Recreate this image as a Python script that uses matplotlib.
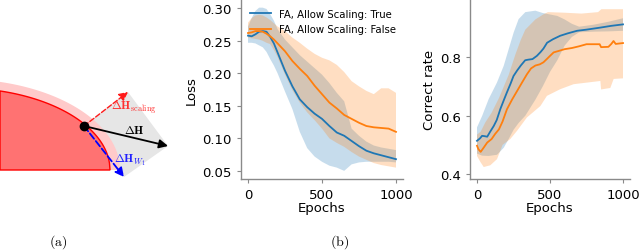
import numpy as np
import matplotlib
matplotlib.use("Agg")
import matplotlib.pyplot as plt

plt.rcParams["mathtext.fontset"] = "cm"

BLUE = "#1f77b4"
ORANGE = "#ff7f0e"
SPINE = "#8a8a8a"

# ---- loss panel (shared epoch grid) ----
loss_epochs = [0, 25, 50, 75, 100, 125, 150, 175, 200, 250, 300, 350, 400, 450,
               500, 550, 600, 650, 700, 750, 800, 850, 900, 950, 1000]
loss_true_mean = [0.258, 0.257, 0.260, 0.264, 0.265, 0.264, 0.256, 0.246, 0.232, 0.204,
                  0.180, 0.160, 0.148, 0.138, 0.130, 0.119, 0.109, 0.104, 0.096, 0.088,
                  0.081, 0.077, 0.074, 0.071, 0.068]
loss_true_hi = [0.272, 0.285, 0.296, 0.301, 0.301, 0.299, 0.291, 0.281, 0.268, 0.252,
                0.240, 0.228, 0.218, 0.208, 0.198, 0.185, 0.170, 0.157, 0.115, 0.104,
                0.095, 0.089, 0.086, 0.084, 0.082]
loss_true_lo = [0.247, 0.247, 0.246, 0.243, 0.240, 0.233, 0.222, 0.212, 0.200, 0.172,
                0.145, 0.110, 0.085, 0.072, 0.064, 0.058, 0.055, 0.050, 0.060, 0.063,
                0.064, 0.064, 0.064, 0.064, 0.063]
loss_false_mean = [0.262, 0.263, 0.265, 0.265, 0.264, 0.261, 0.257, 0.252, 0.246, 0.234,
                   0.219, 0.207, 0.196, 0.181, 0.168, 0.155, 0.146, 0.136, 0.130, 0.124,
                   0.119, 0.117, 0.116, 0.115, 0.110]
loss_false_hi = [0.278, 0.285, 0.289, 0.290, 0.289, 0.286, 0.282, 0.277, 0.272, 0.265,
                 0.255, 0.247, 0.238, 0.230, 0.224, 0.220, 0.213, 0.202, 0.188, 0.180,
                 0.173, 0.168, 0.177, 0.177, 0.170]
loss_false_lo = [0.255, 0.254, 0.253, 0.252, 0.250, 0.247, 0.245, 0.236, 0.225, 0.198,
                 0.174, 0.155, 0.140, 0.128, 0.115, 0.100, 0.093, 0.087, 0.079, 0.072,
                 0.067, 0.062, 0.059, 0.057, 0.055]

# ---- correct rate panel ----
cr_true_ep = [0, 20, 35, 50, 70, 90, 115, 135, 160, 185, 205, 230, 250, 275, 300, 330,
              350, 380, 410, 435, 455, 480, 520, 570, 620, 685, 750, 845, 920, 1000]
cr_true_mean = [0.514, 0.522, 0.531, 0.530, 0.528, 0.545, 0.565, 0.585, 0.623, 0.655,
                0.680, 0.710, 0.736, 0.755, 0.772, 0.790, 0.792, 0.794, 0.805, 0.818,
                0.830, 0.850, 0.862, 0.874, 0.882, 0.891, 0.895, 0.902, 0.908, 0.913]
cr_true_band_ep = [0, 35, 80, 137, 183, 217, 251, 285, 331, 400, 450, 500, 550, 600,
                   650, 700, 800, 900, 1000]
cr_true_hi = [0.560, 0.599, 0.657, 0.714, 0.771, 0.828, 0.885, 0.931, 0.955, 0.960,
              0.952, 0.947, 0.942, 0.930, 0.915, 0.905, 0.912, 0.922, 0.934]
cr_true_lo = [0.470, 0.463, 0.462, 0.466, 0.490, 0.520, 0.552, 0.575, 0.600, 0.655,
              0.700, 0.750, 0.790, 0.840, 0.870, 0.886, 0.888, 0.889, 0.891]

cr_false_ep = [0, 10, 25, 45, 70, 100, 125, 150, 175, 205, 240, 275, 310, 342, 370, 400,
               430, 455, 480, 500, 525, 560, 600, 650, 700, 750, 840, 850, 900, 920,
               935, 950, 1000]
cr_false_mean = [0.497, 0.485, 0.476, 0.490, 0.508, 0.520, 0.538, 0.553, 0.580, 0.622,
                 0.655, 0.685, 0.715, 0.742, 0.762, 0.772, 0.776, 0.783, 0.795, 0.805,
                 0.817, 0.822, 0.828, 0.832, 0.838, 0.845, 0.845, 0.835, 0.836, 0.846,
                 0.856, 0.846, 0.849]
cr_false_hi_ep = [0, 25, 57, 100, 150, 217, 263, 300, 331, 400, 457, 486, 600, 715, 829,
                  852, 1000]
cr_false_hi = [0.535, 0.545, 0.577, 0.610, 0.660, 0.740, 0.810, 0.860, 0.895, 0.930,
               0.948, 0.955, 0.953, 0.950, 0.955, 0.965, 0.965]
cr_false_lo_ep = [0, 25, 46, 91, 137, 160, 175, 228, 274, 342, 434, 479, 571, 662, 845,
                  850, 913, 936, 1000]
cr_false_lo = [0.462, 0.440, 0.424, 0.430, 0.451, 0.480, 0.500, 0.520, 0.548, 0.594,
               0.633, 0.668, 0.691, 0.708, 0.719, 0.690, 0.695, 0.726, 0.728]

# ---- diagram geometry (pixel space of the left panel) ----
dot = (84, 127)
tip_scaling = (128, 93)
tip_total = (168, 147)
tip_w1 = (124, 178)
inner_ell = (-40, 171, 150, 82)   # cx, cy, a, b
outer_ell = (-40, 171, 160, 91)


def band(ax, ep_hi, hi, ep_lo, lo, color):
    xs = list(ep_hi) + list(ep_lo)[::-1]
    ys = list(hi) + list(lo)[::-1]
    ax.fill(xs, ys, color=color, alpha=0.25, lw=0)


def style(ax):
    for side in ("top", "right"):
        ax.spines[side].set_visible(False)
    for side in ("left", "bottom"):
        ax.spines[side].set_color(SPINE)
        ax.spines[side].set_linewidth(1.0)
    ax.tick_params(colors=SPINE, labelcolor="black", labelsize=9.5, length=3)
    ax.set_xlim(-50, 1050)
    ax.set_xticks([0, 500, 1000])
    ax.set_xlabel("Epochs", fontsize=9.5, labelpad=0)


def quarter(cx, cy, a, b):
    x = np.linspace(0, cx + a, 200)
    y = cy - b * np.sqrt(np.clip(1 - ((x - cx) / a) ** 2, 0, None))
    return np.r_[0, x, cx + a], np.r_[cy, y, cy]


fig = plt.figure(figsize=(6.4, 2.51), dpi=100)

# diagram
axd = fig.add_axes([0, 0, 200 / 640, 1])
axd.set_xlim(0, 200)
axd.set_ylim(251, 0)
axd.axis("off")
axd.fill([dot[0], tip_scaling[0], tip_total[0], tip_w1[0]],
         [dot[1], tip_scaling[1], tip_total[1], tip_w1[1]],
         color="#e6e6e6", lw=0, zorder=1)
ox, oy = quarter(*outer_ell)
axd.fill(ox, oy, color="#ffcaca", lw=0, zorder=2)
ix, iy = quarter(*inner_ell)
axd.fill(ix, iy, facecolor="#ff7272", edgecolor="#ff0000", lw=1.0, zorder=3)
for tip, col, ls, lw in [(tip_scaling, "#ff1a1a", "--", 1.0),
                         (tip_total, "black", "-", 1.3),
                         (tip_w1, "#0000ff", "--", 1.3)]:
    axd.annotate("", xy=tip, xytext=dot,
                 arrowprops=dict(arrowstyle="-|>", color=col, lw=lw, linestyle=ls,
                                 mutation_scale=13, shrinkA=0, shrinkB=0),
                 zorder=4)
axd.plot(*dot, "o", color="black", ms=6, zorder=5)
axd.text(134, 108, r"$\Delta\mathbf{H}_{\rm scaling}$", color="#ff3030",
         fontsize=8.5, ha="center", va="center", zorder=6)
axd.text(134, 131, r"$\Delta\mathbf{H}$", color="black",
         fontsize=8.5, ha="center", va="center", zorder=6)
axd.text(130, 160, r"$\Delta\mathbf{H}_{W_1}$", color="#2020ff",
         fontsize=8.5, ha="center", va="center", zorder=6)

# loss
ax1 = fig.add_axes([240.6 / 640, 1 - 180 / 251, 162.8 / 640, 178.8 / 251])
band(ax1, loss_epochs, loss_true_hi, loss_epochs, loss_true_lo, BLUE)
band(ax1, loss_epochs, loss_false_hi, loss_epochs, loss_false_lo, ORANGE)
ax1.plot(loss_epochs, loss_true_mean, color=BLUE, lw=1.3, label="FA, Allow Scaling: True")
ax1.plot(loss_epochs, loss_false_mean, color=ORANGE, lw=1.3, label="FA, Allow Scaling: False")
style(ax1)
ax1.set_ylim(0.0375, 0.3125)
ax1.set_yticks([0.05, 0.10, 0.15, 0.20, 0.25, 0.30])
ax1.set_ylabel("Loss", fontsize=9.5, labelpad=3)
ax1.legend(loc="upper left", bbox_to_anchor=(0.033, 0.975), frameon=False, fontsize=7.3,
           handlelength=2.1, labelspacing=0.55, handletextpad=0.8, borderaxespad=0.0)

# correct rate
ax2 = fig.add_axes([469.7 / 640, 1 - 180 / 251, 160.6 / 640, 180 / 251])
band(ax2, cr_true_band_ep, cr_true_hi, cr_true_band_ep, cr_true_lo, BLUE)
band(ax2, cr_false_hi_ep, cr_false_hi, cr_false_lo_ep, cr_false_lo, ORANGE)
ax2.plot(cr_true_ep, cr_true_mean, color=BLUE, lw=1.3)
ax2.plot(cr_false_ep, cr_false_mean, color=ORANGE, lw=1.3)
style(ax2)
ax2.set_ylim(0.383, 1.0)
ax2.set_yticks([0.4, 0.6, 0.8])
ax2.set_ylabel("Correct rate", fontsize=9.5, labelpad=3)

fig.text(58 / 640, 1 - 242 / 251, r"$\mathrm{(a)}$", fontsize=10, ha="center", va="center")
fig.text(340 / 640, 1 - 242 / 251, r"$\mathrm{(b)}$", fontsize=10, ha="center", va="center")

fig.savefig("out.png", dpi=100)
